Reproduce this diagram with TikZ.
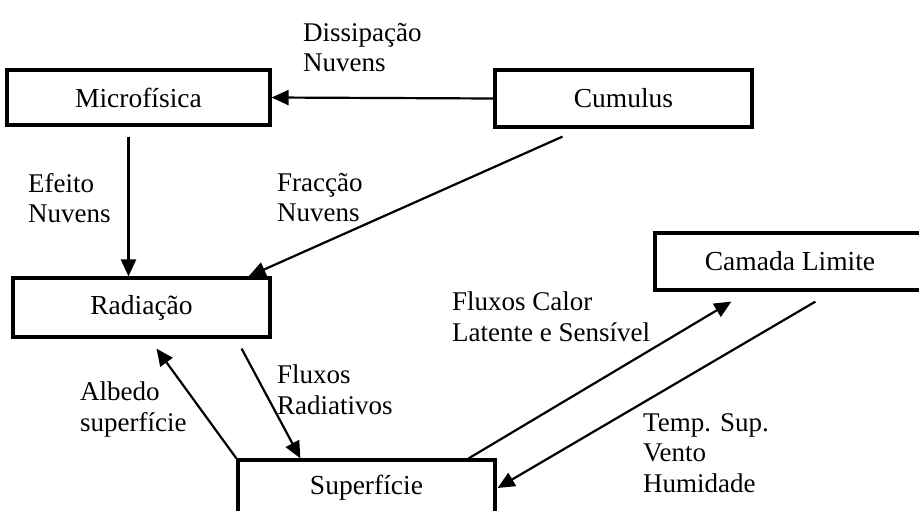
\documentclass[tikz,border=0pt]{standalone}
\usepackage{fontspec}
\setmainfont{Liberation Serif}
\usetikzlibrary{arrows.meta}
\begin{document}
\begin{tikzpicture}[x=1pt,y=-1pt,
  box/.style={draw,line width=3.2pt,rectangle,inner sep=0pt,font=\fontsize{27.5}{31}\selectfont},
  lbl/.style={anchor=north west,inner sep=0pt,align=left,font=\fontsize{27}{30.5}\selectfont},
  arr/.style={line width=2.2pt,-{Triangle[length=17pt,width=15pt]}}]
\clip (0,0) rectangle (919,511);
\fill[white] (0,0) rectangle (919,511);
\node[box,minimum width=263pt,minimum height=55pt] (mic) at (138.5,97.5) {Microfísica};
\node[box,minimum width=257pt,minimum height=57pt] (cum) at (623.5,98.5) {Cumulus};
\node[box,minimum width=257pt,minimum height=59pt] (rad) at (141.5,307.5) {Radiação};
\node[box,minimum width=270pt,minimum height=57pt] (cam) at (790,261.5) {Camada Limite};
\node[box,minimum width=257pt,minimum height=56pt] (sup) at (366.5,488) {Superfície};

\draw[arr] (cum.west) -- (mic.east);
\draw[arr] ([xshift=-10pt,yshift=-10pt]mic.south) -- ([xshift=-10pt]mic.south |- rad.north);
\draw[arr] ([xshift=-61pt,yshift=-8pt]cum.south) -- ([xshift=-23pt]rad.north east);
\draw[arr] ([xshift=-30pt,yshift=-10pt]rad.south east) -- ([xshift=64pt]sup.north west);
\draw[arr] (sup.north west) -- ([xshift=15pt,yshift=-10pt]rad.south);
\draw[arr] ([xshift=-28pt]sup.north east) -- ([xshift=78pt,yshift=-10pt]cam.south west);
\draw[arr] ([xshift=162pt,yshift=-10pt]cam.south west) -- ([xshift=1pt]sup.east);

\node[lbl] (l1) at (303,23) {Dissipação\\Nuvens};
\node[lbl] (l2) at (28,173) {Efeito\\Nuvens};
\node[lbl] (l3) at (277,173) {Fracção\\Nuvens};
\node[lbl] (l4) at (452,292) {Fluxos Calor\\Latente e Sensível};
\node[lbl] (l5) at (80,382) {Albedo\\superfície};
\node[lbl] (l6) at (277,365) {Fluxos\\Radiativos};
\node[lbl] (l7) at (643,413) {Temp. Sup.\\Vento\\Humidade};
\end{tikzpicture}
\end{document}
